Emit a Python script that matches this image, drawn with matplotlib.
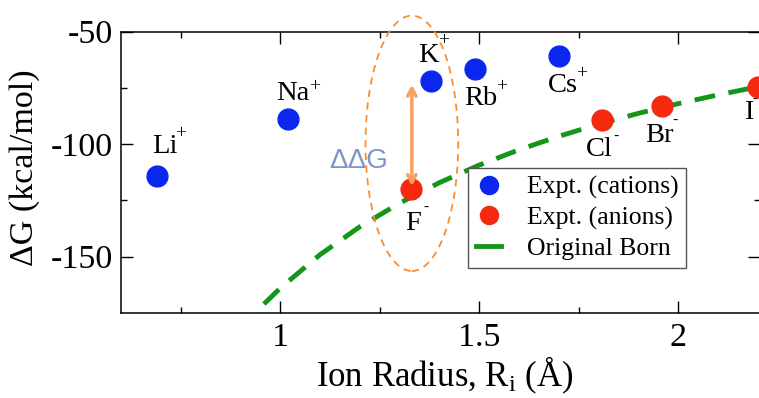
import matplotlib
matplotlib.use("Agg")
import matplotlib.pyplot as plt
from matplotlib.patches import Ellipse
from matplotlib.lines import Line2D

# ---- data ----
cation_names = ["Li", "Na", "K", "Rb", "Cs"]
cation_radius = [0.69, 1.02, 1.38, 1.49, 1.70]
cation_dG = [-114.1, -89.0, -71.8, -66.5, -60.8]

anion_names = ["F", "Cl", "Br", "I"]
anion_radius = [1.33, 1.81, 1.96, 2.20]
anion_dG = [-119.8, -89.4, -82.8, -74.4]

born_radius = [0.90, 0.95, 1.00, 1.10, 1.20, 1.30, 1.40, 1.50, 1.60, 1.70,
               1.80, 1.90, 2.00, 2.10, 2.20, 2.30]
born_dG = [-182.2, -172.6, -164.0, -149.1, -136.7, -126.2, -117.1, -109.3,
           -102.5, -96.5, -91.1, -86.3, -82.0, -78.1, -74.5, -71.3]

x_ticks = [1, 1.5, 2]
x_ticklabels = ["1", "1.5", "2"]
y_ticks = [-150, -100, -50]
y_ticklabels = ["-150", "-100", "-50"]

# ---- style ----
plt.rcParams['font.family'] = ['Liberation Serif', 'DejaVu Serif']
plt.rcParams['mathtext.fontset'] = 'custom'
plt.rcParams['mathtext.rm'] = 'Liberation Serif'
plt.rcParams['mathtext.it'] = 'Liberation Serif:italic'
plt.rcParams['axes.unicode_minus'] = False

BLUE = '#0b26ee'
RED = '#f6280e'
GREEN = '#14961a'
ORANGE = '#ff8c2a'
ARROW = '#f8a060'
DDG = '#7d95c8'

W, H = 759, 398
fig = plt.figure(figsize=(W / 100, H / 100), dpi=100)
ax = fig.add_axes([121 / W, 1 - 313 / H, 639 / W, 281.3 / H])

ax.set_xlim(0.6, 2.206)
ax.set_ylim(-175, -50)

# Born curve
ax.plot(born_radius, born_dG, color=GREEN, lw=3.5, dashes=(4.3, 2.8),
        label='Original Born', zorder=3)
# experimental points
ax.plot(cation_radius, cation_dG, 'o', color=BLUE, ms=15, mec=BLUE,
        label='Expt. (cations)', zorder=4)
ax.plot(anion_radius, anion_dG, 'o', color=RED, ms=15, mec=RED,
        label='Expt. (anions)', zorder=4)

# ion labels: (base offset, sup offset) in pixels relative to point
cat_off = [(-5, 23), (-12, 19), (-13, 19), (-11, -36), (-11, -36)]
cat_sup = [(24, 42), (26, 33), (12, 40), (26, -18), (23, -18)]
an_off = [(-6, -41), (-17, -36), (-17, -36), (-14, -32)]
an_sup = [(14, -19), (13, -16), (13, -15), (-3, -13)]

for name, x, y, o, s in zip(cation_names, cation_radius, cation_dG, cat_off, cat_sup):
    ax.annotate(name, (x, y), xytext=o, textcoords='offset pixels',
                ha='left', va='baseline', fontsize=20.5, annotation_clip=False)
    ax.annotate('+', (x, y), xytext=s, textcoords='offset pixels',
                ha='center', va='center', fontsize=14, annotation_clip=False)
for name, x, y, o, s in zip(anion_names, anion_radius, anion_dG, an_off, an_sup):
    ax.annotate(name, (x, y), xytext=o, textcoords='offset pixels',
                ha='left', va='baseline', fontsize=20.5, annotation_clip=False)
    ax.annotate('-', (x, y), xytext=s, textcoords='offset pixels',
                ha='center', va='center', fontsize=11, annotation_clip=False)

# ellipse around F-
ell = Ellipse((1.331, -99.6), 0.233, 113.5, fill=False, edgecolor=ORANGE,
              lw=1.3, linestyle=(0, (4, 3)), clip_on=False, zorder=5)
ax.add_patch(ell)

# double-headed arrow
ax.annotate('', xy=(1.331, -118.5), xytext=(1.331, -73.6),
            arrowprops=dict(arrowstyle='<->,head_length=0.55,head_width=0.3',
                            color=ARROW, lw=2.5, shrinkA=0, shrinkB=0),
            zorder=5)
ax.text(1.198, -107.5, 'ΔΔG', color=DDG, fontsize=20,
        family=['Liberation Sans', 'DejaVu Sans'], ha='center', va='center')

# axes styling
ax.set_xticks(x_ticks)
ax.set_xticklabels(x_ticklabels)
ax.set_yticks(y_ticks)
ax.set_yticklabels(y_ticklabels)
ax.set_xticks([0.75, 1.25, 1.75], minor=True)
ax.set_yticks([-125, -75], minor=True)
ax.tick_params(which='both', direction='in', top=True, right=True,
               labelsize=24.5, width=1.0)
ax.tick_params(which='major', length=8.5)
ax.tick_params(which='minor', length=4.3)
ax.tick_params(axis='x', pad=7)
ax.tick_params(axis='y', pad=6)
for sp in ax.spines.values():
    sp.set_linewidth(1.1)

fig.text(25 / W, 1 - 168 / H, 'ΔG (kcal/mol)', rotation=90, fontsize=24.5,
         ha='center', va='center')
fig.text(445 / W, 1 - 386 / H, 'Ion Radius, R$_\\mathrm{i}$ (Å)', fontsize=25,
         ha='center', va='baseline')

handles = [
    Line2D([], [], marker='o', ls='none', color=BLUE, ms=13),
    Line2D([], [], marker='o', ls='none', color=RED, ms=13),
    Line2D([], [], color=GREEN, lw=3.5),
]
leg = ax.legend(handles, ['Expt. (cations)', 'Expt. (anions)', 'Original Born'],
                loc='upper left', bbox_to_anchor=(468 / W, 1 - 168 / H),
                bbox_transform=fig.transFigure, borderaxespad=0,
                fontsize=18.5, frameon=True, fancybox=False, framealpha=1,
                edgecolor='#555555', handlelength=1.0, handletextpad=1.0,
                labelspacing=0.28, borderpad=0.3)
leg.get_frame().set_linewidth(1.0)

fig.savefig('out.png', dpi=100)
